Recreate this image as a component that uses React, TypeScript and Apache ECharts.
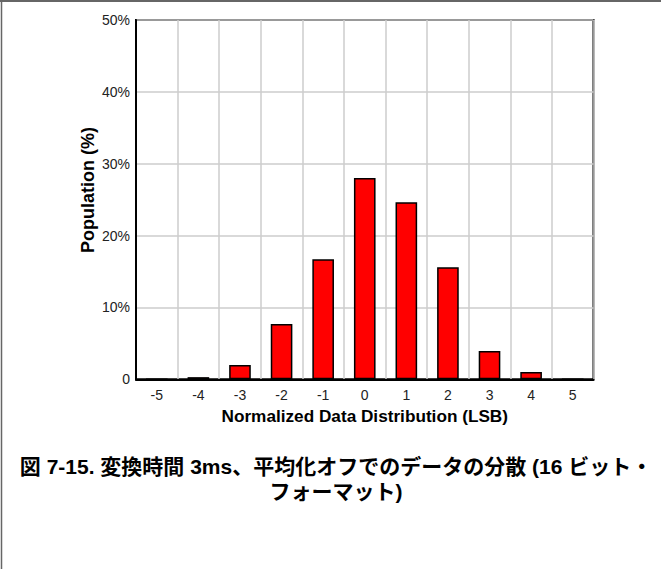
import React, { useEffect, useRef } from "react";
import * as echarts from "echarts";

const categories = ["-5", "-4", "-3", "-2", "-1", "0", "1", "2", "3", "4", "5"];
const population = [0, 0.3, 2.0, 7.7, 16.7, 28.0, 24.65, 15.6, 3.95, 1.0, 0];
const yTicks = { min: 0, max: 50, interval: 10 };
const xTitle = "Normalized Data Distribution (LSB)";
const yTitle = "Population (%)";
const captionLines = ["図 7-15. 変換時間 3ms、平均化オフでのデータの分散 (16 ビット・", "フォーマット)"];

const FONT = "'Liberation Sans', Arial, 'Noto Sans CJK JP', sans-serif";

export default function App() {
  const ref = useRef<HTMLDivElement>(null);
  useEffect(() => {
    if (!ref.current) return;
    const chart = echarts.init(ref.current, undefined, { renderer: "svg" });
    chart.setOption({
      animation: false,
      backgroundColor: "#fff",
      textStyle: { fontFamily: FONT },
      grid: {
        left: 136,
        top: 20,
        right: 67.5,
        bottom: 189.7,
        show: true,
        borderColor: "#000",
        borderWidth: 2,
        containLabel: false,
      },
      xAxis: {
        type: "category",
        data: categories,
        boundaryGap: true,
        axisLine: { lineStyle: { color: "#000", width: 2 } },
        axisTick: { show: false },
        axisLabel: { color: "#222", fontSize: 14, margin: 9, fontFamily: FONT },
        splitLine: { show: true, lineStyle: { color: "#cccccc", width: 1.5 } },
        name: xTitle,
        nameLocation: "middle",
        nameGap: 23,
        nameTextStyle: { color: "#000", fontSize: 17.2, fontWeight: "bold", fontFamily: FONT },
      },
      yAxis: {
        type: "value",
        min: yTicks.min,
        max: yTicks.max,
        interval: yTicks.interval,
        axisLine: { show: true, lineStyle: { color: "#000", width: 2 } },
        axisTick: { show: false },
        axisLabel: {
          color: "#222",
          fontSize: 14,
          margin: 6,
          fontFamily: FONT,
          formatter: (v: number) => (v === 0 ? "0" : v + "%"),
        },
        splitLine: { show: true, lineStyle: { color: "#cccccc", width: 1.5 } },
      },
      series: [
        {
          type: "bar",
          data: population,
          barWidth: "52%",
          itemStyle: { color: "#ff0000", borderColor: "#000", borderWidth: 1.5 },
        },
      ],
      graphic: [
        { type: "line", shape: { x1: 0, y1: 1, x2: 661, y2: 1 }, style: { stroke: "#333", lineWidth: 1.5 } },
        { type: "line", shape: { x1: 1.5, y1: 0, x2: 1.5, y2: 569 }, style: { stroke: "#666", lineWidth: 1.5 } },
        {
          type: "text",
          x: 88,
          y: 190,
          rotation: Math.PI / 2,
          style: {
            text: yTitle,
            align: "center",
            verticalAlign: "middle",
            fontSize: 18,
            fontWeight: "bold",
            fill: "#000",
            fontFamily: FONT,
          },
        },
        {
          type: "text",
          x: 336,
          y: 478.5,
          style: {
            text: captionLines.join("\n"),
            align: "center",
            verticalAlign: "middle",
            fontSize: 21,
            fontWeight: "bold",
            lineHeight: 25,
            fill: "#000",
            fontFamily: FONT,
          },
        },
      ],
    });
    return () => chart.dispose();
  }, []);
  return (
    <div
      ref={ref}
      style={{ position: "fixed", left: 0, top: 0, width: 661, height: 569 }}
    />
  );
}
